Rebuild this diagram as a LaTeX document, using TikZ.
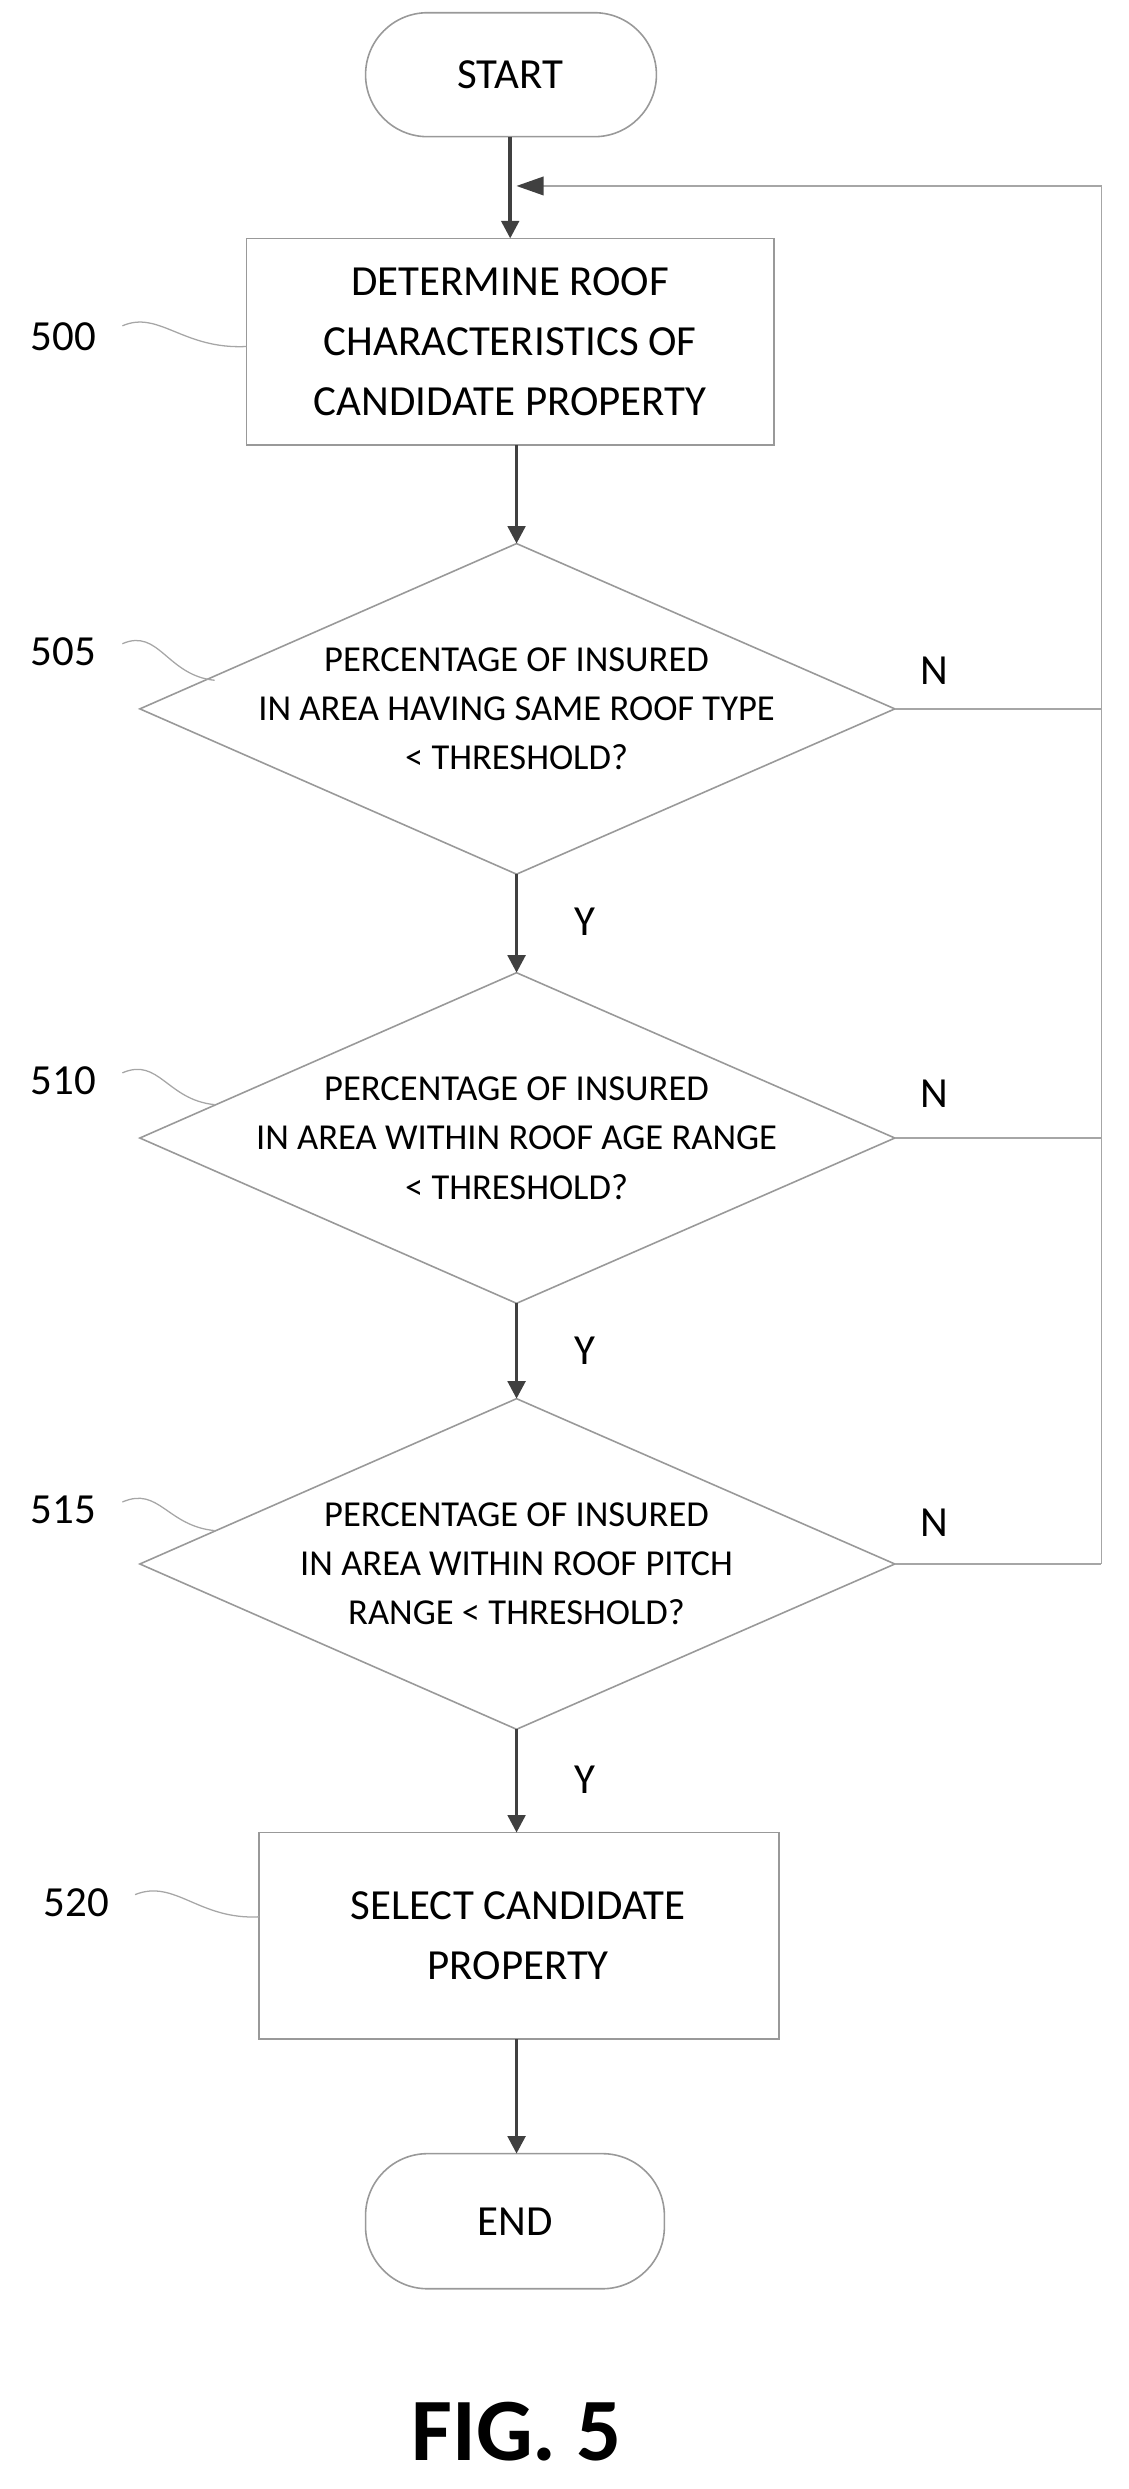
\documentclass[tikz,border=0pt]{standalone}
\usepackage{fontspec}
\setmainfont{Carlito}
\usetikzlibrary{shapes.geometric,arrows.meta}
\begin{document}
\begin{tikzpicture}[x=1pt,y=-1pt,
 box/.style={draw=gray!80,line width=1pt,align=center,font=\fontsize{27}{38}\selectfont},
 term/.style={draw=gray!80,line width=1pt,rounded corners=39pt},
 dec/.style={draw=gray!80,line width=1pt},
 dtext/.style={align=center,font=\fontsize{23}{31}\selectfont},
 arr/.style={draw=black!75,line width=2.2pt,-{Triangle[length=11pt,width=11pt]}},
 fb/.style={draw=gray!70,line width=1pt},
 lab/.style={font=\fontsize{27}{30}\selectfont},
 sq/.style={draw=gray!70,line width=0.8pt}]
\useasboundingbox (0,0) rectangle (710,1566);
% terminals
\draw[term] (230,8) rectangle (413,86); \node[lab] (start) at (321,47) {START};
\draw[term] (230,1355) rectangle (418,1440); \node[lab] (end) at (324,1398) {END};
% boxes
\draw[box] (155,150) rectangle (487,280);
\node[box,draw=none] (b500) at (321,215) {DETERMINE ROOF\\CHARACTERISTICS OF\\CANDIDATE PROPERTY};
\draw[box] (163,1153) rectangle (490,1283);
\node[box,draw=none] (b520) at (326,1218) {SELECT CANDIDATE\\PROPERTY};
% diamonds
\foreach \c/\t in {446/{PERCENTAGE OF INSURED\\IN AREA HAVING SAME ROOF TYPE\\< THRESHOLD?},716/{PERCENTAGE OF INSURED\\IN AREA WITHIN ROOF AGE RANGE\\< THRESHOLD?},984/{PERCENTAGE OF INSURED\\IN AREA WITHIN ROOF PITCH\\RANGE < THRESHOLD?}}{
 \draw[dec] (325,\c-104) -- (563,\c) -- (325,\c+104) -- (88,\c) -- cycle;
 \node[dtext] at (325,\c) {\t};
 \draw[fb] (563,\c) -- (693,\c);
}
% main arrows
\draw[arr] (321,86) -- (321,150);
\draw[arr] (325,280) -- (325,342);
\draw[arr] (325,550) -- (325,612);
\draw[arr] (325,820) -- (325,880);
\draw[arr] (325,1088) -- (325,1153);
\draw[arr] (325,1283) -- (325,1355);
% feedback
\draw[fb] (693,984) -- (693,117) -- (340,117);
\fill[black!75] (325,117) -- (342,111) -- (342,123) -- cycle;
% Y/N
\foreach \y in {580,850,1120} \node[lab] at (368,\y) {Y};
\foreach \y in {422,688,958} \node[lab] at (588,\y) {N};
% labels
\node[lab] (l500) at (40,212) {500};
\draw[sq] (77,205) .. controls (100,195) and (115,220) .. (155,218);
\node[lab] (l505) at (40,410) {505};
\draw[sq] (77,405) .. controls (100,395) and (105,425) .. (135,428);
\node[lab] (l510) at (40,680) {510};
\draw[sq] (77,675) .. controls (100,665) and (105,692) .. (135,695);
\node[lab] (l515) at (40,950) {515};
\draw[sq] (77,945) .. controls (100,935) and (105,960) .. (135,963);
\node[lab] (l520) at (48,1197) {520};
\draw[sq] (85,1192) .. controls (110,1182) and (125,1208) .. (163,1206);
\node[font=\bfseries\fontsize{56}{60}\selectfont] at (325,1530) {FIG. 5};
\end{tikzpicture}
\end{document}
